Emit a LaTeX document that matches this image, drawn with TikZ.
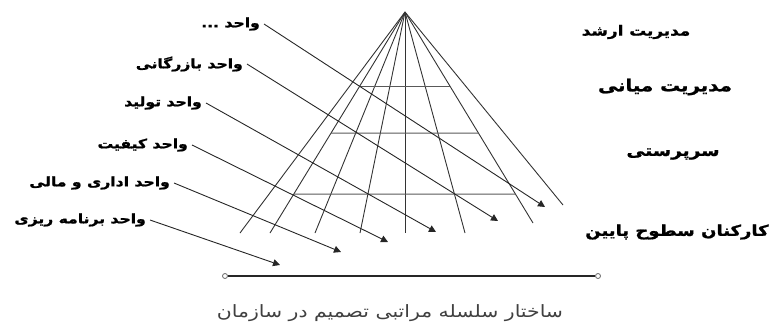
\documentclass[tikz,border=0pt]{standalone}
\usepackage{fontspec}
\newfontfamily\fa[Script=Arabic, FakeStretch=1.2, BoldFeatures={FakeBold=1.2}]{DejaVu Sans}
\TeXXeTstate=1
\usetikzlibrary{arrows.meta, calc}

\begin{document}
\begin{tikzpicture}[x=1pt, y=-1pt,
  ray/.style={draw=black!80, line width=0.9pt},
  rung/.style={draw=black!65, line width=1pt},
  unit/.style={font=\fa\bfseries\fontsize{13}{15}\selectfont, anchor=east, inner sep=4pt},
  level/.style={font=\fa\bfseries\fontsize{15}{17}\selectfont},
  arr/.style={-{Triangle[length=7pt, width=7pt]}, black!85, line width=0.9pt},
  endpt/.style={circle, draw=black!60, fill=white, line width=0.8pt,
               minimum size=5pt, inner sep=0pt},
]
\useasboundingbox (0,0) rectangle (773,327);

\coordinate (apex) at (405,12);
\coordinate (r1) at (240,233);
\coordinate (r2) at (270,233);
\coordinate (r3) at (315,233);
\coordinate (r4) at (360,233);
\coordinate (r5) at (405,233);
\coordinate (r6) at (465,233);
\coordinate (r7) at (533,223);
\coordinate (r8) at (563,205);
\foreach \r in {1,...,8}
  \draw[ray] (apex) -- (r\r);

\foreach \y [count=\i] in {86,133,194} {
  \coordinate (h\i l) at ($(apex)!{(\y-12)/221}!(r2)$);
  \coordinate (h\i r) at ($(apex)!{(\y-12)/211}!(r7)$);
  \draw[rung] (h\i l) -- (h\i r);
}

\node[unit] (u1) at (264,24)  {\beginR واحد ...\endR};
\node[unit] (u2) at (247,64)  {\beginR واحد بازرگانی\endR};
\node[unit] (u3) at (206,103) {\beginR واحد تولید\endR};
\node[unit] (u4) at (192,145) {\beginR واحد کیفیت\endR};
\node[unit] (u5) at (174,183) {\beginR واحد اداری و مالی\endR};
\node[unit] (u6) at (150,220) {\beginR واحد برنامه ریزی\endR};

\coordinate (a1) at (545,207);
\coordinate (a2) at (498,221);
\coordinate (a3) at (436,232);
\coordinate (a4) at (388,242);
\coordinate (a5) at (341,252);
\coordinate (a6) at (280,265);
\foreach \i in {1,...,6}
  \draw[arr] (u\i.east) -- (a\i);

\node[level, font=\fa\bfseries\fontsize{14}{16}\selectfont] (l1) at (636,32)  {\beginR مدیریت ارشد\endR};
\node[level, font=\fa\bfseries\fontsize{16.5}{18}\selectfont] (l2) at (665,87)  {\beginR مدیریت میانی\endR};
\node[level, font=\fa\bfseries\fontsize{15.5}{17}\selectfont] (l3) at (673,154) {\beginR سرپرستی\endR};
\node[level, font=\fa\bfseries\fontsize{15}{17}\selectfont] (l4) at (677,232) {\beginR کارکنان سطوح پایین\endR};

\node[endpt] (bl) at (225,276) {};
\node[endpt] (br) at (598,276) {};
\draw[black!85, line width=2pt] (bl) -- (br);

\node[font=\fa\fontsize{17}{19}\selectfont, text=black!75] (cap) at (390,313)
  {\beginR ساختار سلسله مراتبی تصمیم در سازمان\endR};
\end{tikzpicture}
\end{document}
